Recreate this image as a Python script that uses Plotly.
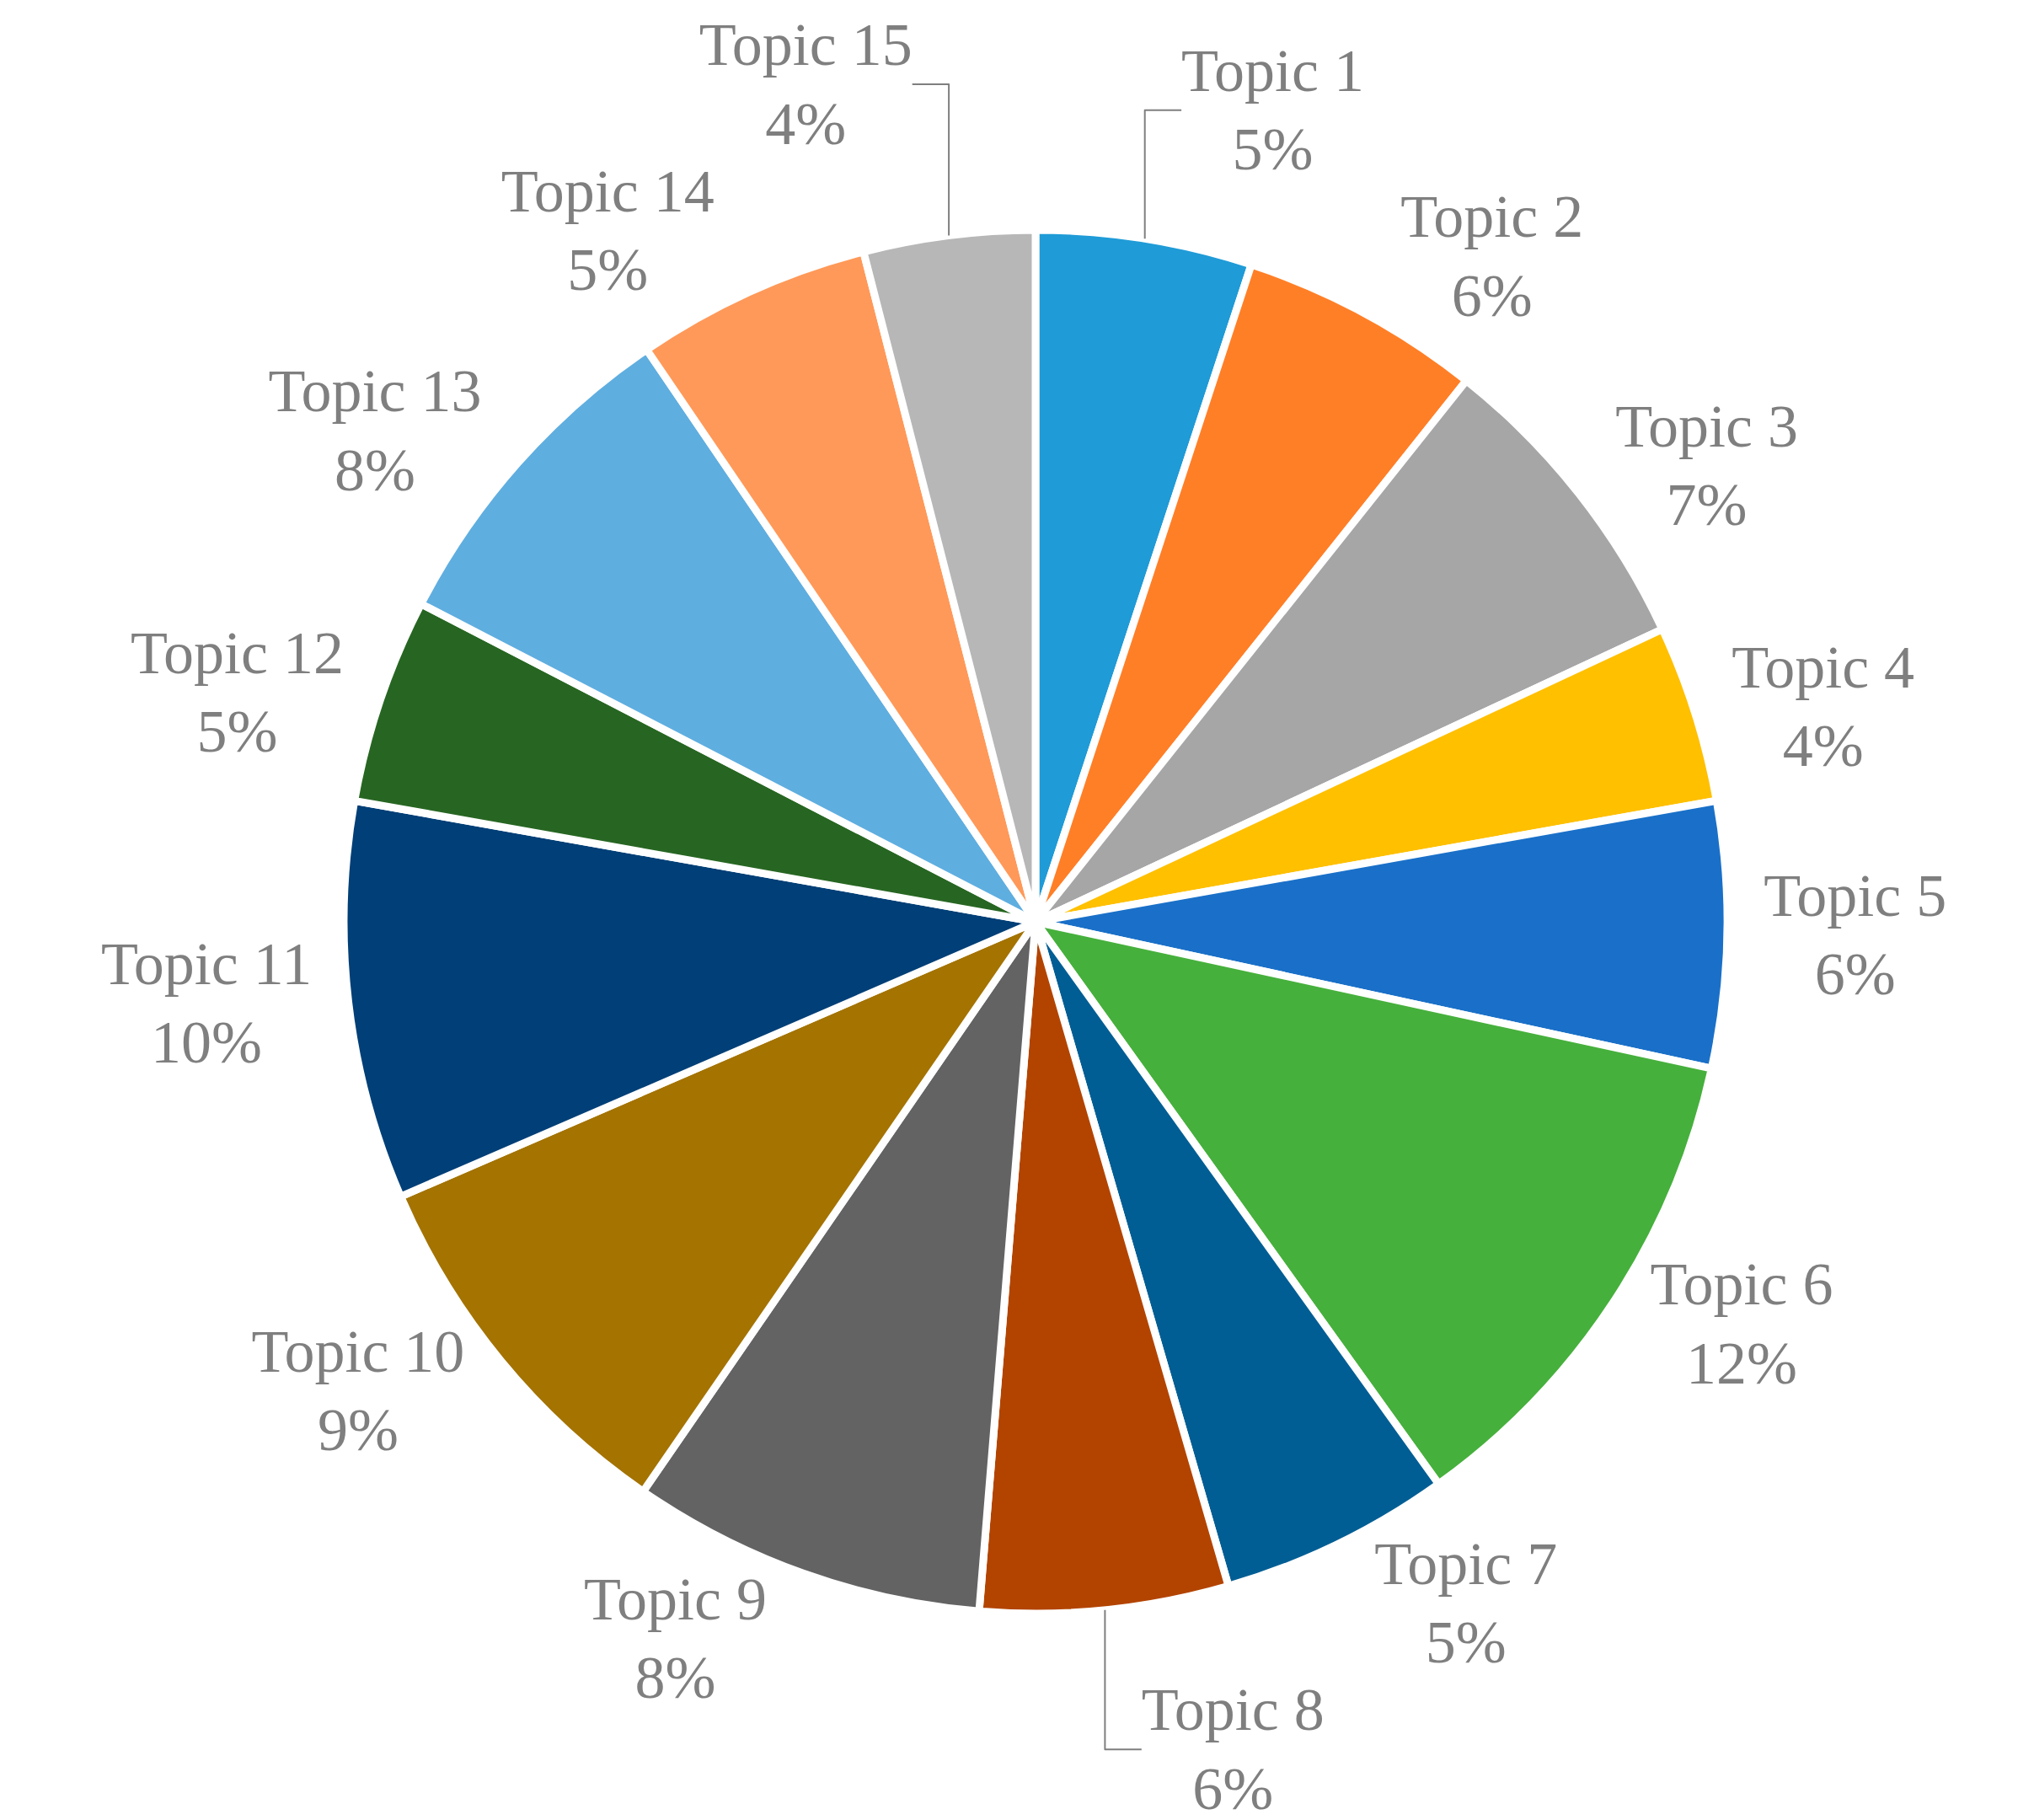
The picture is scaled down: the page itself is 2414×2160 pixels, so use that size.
import plotly.graph_objects as go

topics = [f"Topic {i}" for i in range(1, 16)]
values = [5.05, 5.65, 7.35, 4.15, 6.2, 11.7, 5.4, 5.8, 8.3, 8.9, 9.3, 4.8, 7.9, 5.5, 4.0]
pct_labels = ["5%", "6%", "7%", "4%", "6%", "12%", "5%", "6%", "8%", "9%", "10%", "5%", "8%", "5%", "4%"]
colors = ["#1f9bd7", "#ff7f27", "#a6a6a6", "#ffc000", "#1a70c8", "#46b03c", "#005e94",
          "#b34400", "#636363", "#a47300", "#003f77", "#276622", "#5faee0", "#ff9959", "#b7b7b7"]

text = [f"{t}<br>{p}" for t, p in zip(topics, pct_labels)]

fig = go.Figure(go.Pie(
    labels=topics, values=values, text=text, textinfo="text",
    textposition="outside", sort=False, direction="clockwise", rotation=0,
    marker=dict(colors=colors, line=dict(color="white", width=9)),
    textfont=dict(family="Liberation Serif", size=72, color="#7f7f7f"),
    showlegend=False,
))
fig.update_layout(
    width=2414, height=2160, paper_bgcolor="white",
    margin=dict(l=240, r=240, t=200, b=170),
)
fig.write_html("out.html")
